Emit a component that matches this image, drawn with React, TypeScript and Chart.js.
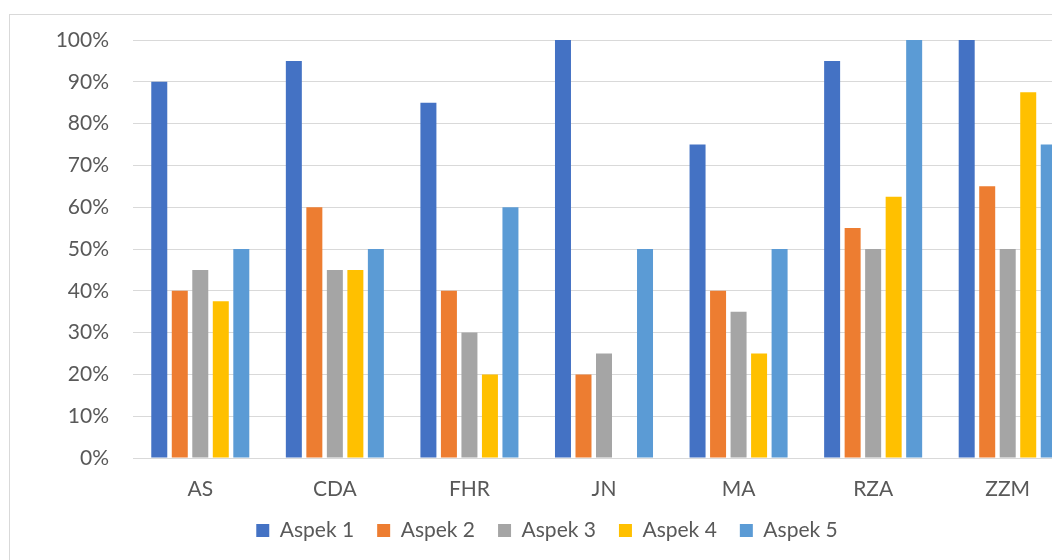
import React, { useEffect, useRef } from "react";
import { Chart, registerables } from "chart.js";

Chart.register(...registerables);

const categories = ["AS", "CDA", "FHR", "JN", "MA", "RZA", "ZZM"];
const aspek1 = [90, 95, 85, 100, 75, 95, 100];
const aspek2 = [40, 60, 40, 20, 40, 55, 65];
const aspek3 = [45, 45, 30, 25, 35, 50, 50];
const aspek4 = [37.5, 45, 20, 0, 25, 62.5, 87.5];
const aspek5 = [50, 50, 60, 50, 50, 100, 75];
const seriesNames = ["Aspek 1", "Aspek 2", "Aspek 3", "Aspek 4", "Aspek 5"];
const seriesColors = ["#4472C4", "#ED7D31", "#A5A5A5", "#FFC000", "#5B9BD5"];
const yTicks = [0, 10, 20, 30, 40, 50, 60, 70, 80, 90, 100];

const FONT = "Lato, 'Open Sans', sans-serif";
const TXT = "#595959";

export default function App() {
  const ref = useRef<HTMLCanvasElement | null>(null);

  useEffect(() => {
    document.documentElement.style.overflow = "hidden";
    const series = [aspek1, aspek2, aspek3, aspek4, aspek5];
    const chart = new Chart(ref.current!, {
      type: "bar",
      data: {
        labels: categories,
        datasets: series.map((d, i) => ({
          label: seriesNames[i],
          data: d,
          backgroundColor: seriesColors[i],
          borderWidth: 0,
          categoryPercentage: 0.762,
          barPercentage: 0.78,
        })),
      },
      options: {
        responsive: false,
        animation: false,
        layout: { padding: { top: 25, right: 2, bottom: 0, left: 9 } },
        plugins: {
          tooltip: { enabled: false },
          legend: {
            position: "bottom",
            labels: {
              boxWidth: 13,
              boxHeight: 13,
              padding: 23,
              color: TXT,
              font: { family: FONT, size: 21 },
            },
          },
        },
        scales: {
          x: {
            grid: { display: false, drawTicks: false },
            border: { display: true, color: "#D9D9D9", width: 1 },
            ticks: {
              color: TXT,
              font: { family: FONT, size: 21 },
              padding: 19,
            },
            afterFit: (s: any) => {
              s.height = 39;
            },
          },
          y: {
            min: 0,
            max: 100,
            afterBuildTicks: (s: any) => {
              s.ticks = yTicks.map((v) => ({ value: v }));
            },
            grid: { color: "#D9D9D9", lineWidth: 1, drawTicks: false },
            border: { display: false },
            ticks: {
              color: TXT,
              font: { family: FONT, size: 21 },
              padding: 24,
              callback: (v: any) => v + "%",
            },
            afterFit: (s: any) => {
              s.width = 114;
              s.paddingTop = 0;
              s.paddingBottom = 0;
            },
          },
        },
      },
    });
    return () => chart.destroy();
  }, []);

  return (
    <div style={{ position: "relative", width: 1052, height: 552, overflow: "hidden" }}>
      <div
        style={{
          position: "absolute",
          left: 1,
          top: 6,
          width: 1076,
          height: 580,
          border: "1px solid #D9D9D9",
          background: "#fff",
        }}
      >
        <canvas ref={ref} width={1067} height={536} style={{ display: "block" }} />
      </div>
    </div>
  );
}
